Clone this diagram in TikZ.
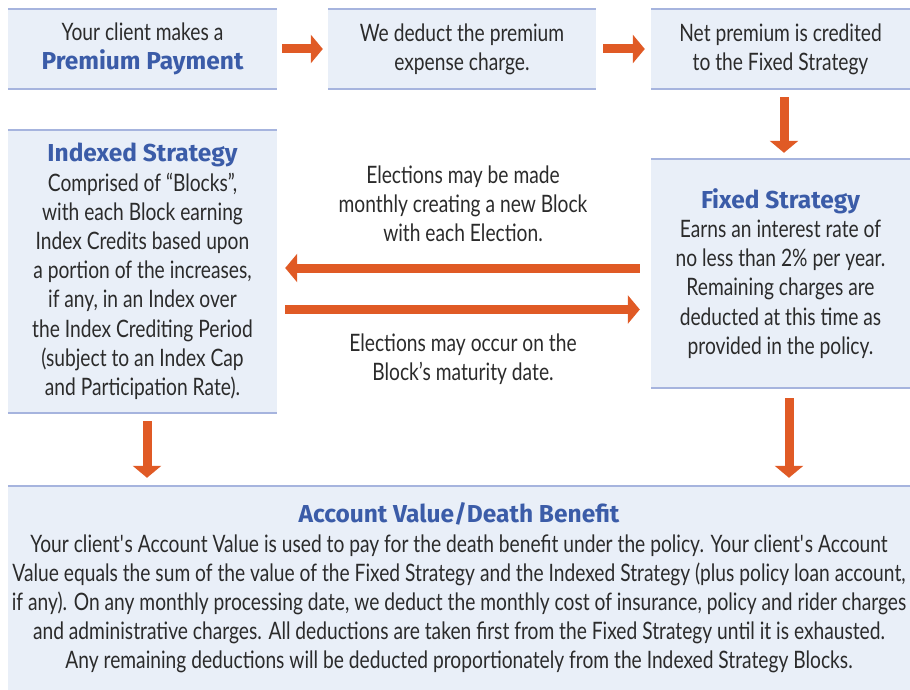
\documentclass[tikz,border=0pt]{standalone}
\usepackage{fontspec}
\setmainfont{Lato}
\newfontfamily\bodyfont{Lato}[FakeStretch=0.8]
\newfontfamily\headfont{Fira Sans}
\usetikzlibrary{arrows.meta}
\definecolor{boxfill}{HTML}{E9EFF8}
\definecolor{boxrule}{HTML}{A6B4DE}
\definecolor{headblue}{HTML}{3B5CA8}
\definecolor{bodygray}{HTML}{2B2B2B}
\definecolor{flow}{HTML}{E05A25}
\newcommand{\head}[1]{{\headfont\bfseries\fontsize{24.5}{29.2}\selectfont\color{headblue}#1}}
\begin{document}
\begin{tikzpicture}[x=1pt,y=-1pt]
	\tikzset{panel/.style = {fill=boxfill,inner sep=0pt,align=center,text=bodygray,
			font=\bodyfont\fontsize{24}{29.2}\selectfont}}
	\tikzset{rule/.style = {boxrule,line width=1.6pt}}
	\tikzset{flowarrow/.style = {flow,line width=9pt,-{Triangle[length=12pt,width=28pt]}}}
	\useasboundingbox (0,0) rectangle (910,690);
	\node[panel,minimum width=269pt,minimum height=80pt] (pay) at (142.5,49) {Your client makes a\\\head{Premium Payment}};
	\node[panel,minimum width=268pt,minimum height=80pt] (deduct) at (462,49) {We deduct the premium\\expense charge.};
	\node[panel,minimum width=259pt,minimum height=80pt] (credit) at (780.5,49) {Net premium is credited\\to the Fixed Strategy};
	\node[panel,minimum width=269pt,minimum height=283pt] (indexed) at (142.5,271.5) {\head{Indexed Strategy}\\Comprised of “Blocks”,\\with each Block earning\\Index Credits based upon\\a portion of the increases,\\if any, in an Index over\\the Index Crediting Period\\(subject to an Index Cap\\and Participation Rate).};
	\node[panel,minimum width=259pt,minimum height=229pt] (fixed) at (780.5,273.5) {\head{Fixed Strategy}\\Earns an interest rate of\\no less than 2\% per year.\\Remaining charges are\\deducted at this time as\\provided in the policy.};
	\node[panel,minimum width=902pt,minimum height=204pt] (account) at (459,588) {\head{Account Value/Death Benefit}\\Your client\textquotesingle s Account Value is used to pay for the death benefit under the policy. Your client\textquotesingle s Account\\Value equals the sum of the value of the Fixed Strategy and the Indexed Strategy (plus policy loan account,\\if any). On any monthly processing date, we deduct the monthly cost of insurance, policy and rider charges\\and administrative charges. All deductions are taken first from the Fixed Strategy until it is exhausted.\\Any remaining deductions will be deducted proportionately from the Indexed Strategy Blocks.};
	\node[align=center,text=bodygray,font=\bodyfont\fontsize{24}{29.2}\selectfont] (elect) at (463,204) {Elections may be made\\monthly creating a new Block\\with each Election.};
	\node[align=center,text=bodygray,font=\bodyfont\fontsize{24}{29.2}\selectfont] (mature) at (463,359.5) {Elections may occur on the\\Block’s maturity date.};
	% top and bottom rules of the panels
	\foreach \n in {pay,deduct,credit,indexed,fixed}
		\draw[rule] (\n.north west) -- (\n.north east) (\n.south west) -- (\n.south east);
	\draw[rule] (account.north west) -- (account.north east);
	% flow arrows
	\draw[flowarrow,shorten <=5pt,shorten >=5pt] (pay) -- (deduct);
	\draw[flowarrow,shorten <=7pt,shorten >=6pt] (deduct) -- (credit);
	\draw[flowarrow,shorten <=8pt,shorten >=6pt] ([xshift=3.5pt]credit.south) -- ([xshift=3.5pt]credit.south |- fixed.north);
	\draw[flowarrow,shorten <=11pt,shorten >=8pt] ([yshift=5.5pt]fixed.west) -- ([yshift=5.5pt]fixed.west -| indexed.east);
	\draw[flowarrow,shorten <=8pt,shorten >=11pt] ([yshift=-36pt]fixed.west -| indexed.east) -- ([yshift=-36pt]fixed.west);
	\draw[flowarrow,shorten <=8pt,shorten >=8pt] ([xshift=4.5pt]indexed.south) -- ([xshift=4.5pt]indexed.south |- account.north);
	\draw[flowarrow,shorten <=10pt,shorten >=8pt] ([xshift=8.5pt]fixed.south) -- ([xshift=8.5pt]fixed.south |- account.north);
\end{tikzpicture}
\end{document}
